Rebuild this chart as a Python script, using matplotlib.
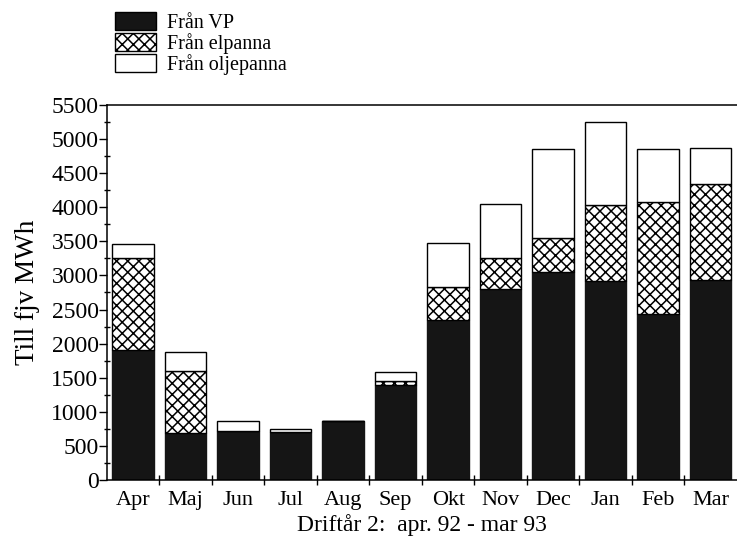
import numpy as np
import matplotlib
matplotlib.use("Agg")
import matplotlib.pyplot as plt
from matplotlib.patches import Patch

plt.rcParams['font.family'] = ['Liberation Serif', 'DejaVu Serif']
plt.rcParams['hatch.linewidth'] = 1.1

months = ['Apr', 'Maj', 'Jun', 'Jul', 'Aug', 'Sep', 'Okt', 'Nov', 'Dec', 'Jan', 'Feb', 'Mar']
# MWh per source
fran_vp = [1900, 690, 720, 710, 870, 1390, 2340, 2800, 3050, 2920, 2440, 2930]
fran_elpanna = [1350, 910, 0, 0, 0, 60, 490, 450, 500, 1110, 1630, 1410]
fran_oljepanna = [210, 270, 150, 40, 0, 140, 650, 800, 1310, 1220, 790, 530]
labels = ['Från VP', 'Från elpanna', 'Från oljepanna']

fig = plt.figure(figsize=(7.37, 5.42), dpi=100)
ax = fig.add_axes([0.145, 0.1144, 0.855, 0.692])

x = np.arange(len(months))
vp = np.array(fran_vp)
el = np.array(fran_elpanna)
olj = np.array(fran_oljepanna)

ax.bar(x, vp, width=0.79, color='#151515', edgecolor='#151515', linewidth=1)
ax.bar(x, el, width=0.79, bottom=vp, color='white', edgecolor='black',
       hatch='xxx', linewidth=1)
ax.bar(x, olj, width=0.79, bottom=vp + el, color='white', edgecolor='black', linewidth=1)

ax.set_xlim(-0.5, 11.5)
ax.set_ylim(0, 5500)
ax.set_yticks(np.arange(0, 5501, 500))
ax.set_yticks(np.arange(250, 5500, 500), minor=True)
ax.set_xticks(x)
ax.set_xticklabels(months)
ax.set_xticks(np.arange(0.5, 11, 1), minor=True)

ax.tick_params(axis='x', which='major', length=0, labelsize=16, pad=8)
ax.tick_params(axis='x', which='minor', direction='inout', length=7, width=1)
ax.tick_params(axis='y', which='major', direction='out', length=6, width=1,
               labelsize=17, pad=0)
ax.tick_params(axis='y', which='minor', direction='inout', length=5, width=1)

ax.spines['right'].set_visible(False)
for s in ['left', 'top', 'bottom']:
    ax.spines[s].set_linewidth(1.1)

ax.set_ylabel('Till fjv MWh', fontsize=19.5, labelpad=8)
ax.set_xlabel('Driftår 2:  apr. 92 - mar 93', fontsize=17, labelpad=3)

handles = [Patch(facecolor='#151515', edgecolor='black', linewidth=1),
           Patch(facecolor='white', edgecolor='black', hatch='xxx', linewidth=1),
           Patch(facecolor='white', edgecolor='black', linewidth=1)]
fig.legend(handles, labels, loc='upper left', bbox_to_anchor=(0.156, 0.978),
           frameon=False, fontsize=14.5, handlelength=2.05, handleheight=1.0,
           labelspacing=0.0, handletextpad=0.55, borderpad=0, borderaxespad=0)

fig.savefig('out.png', dpi=100, facecolor='white')
